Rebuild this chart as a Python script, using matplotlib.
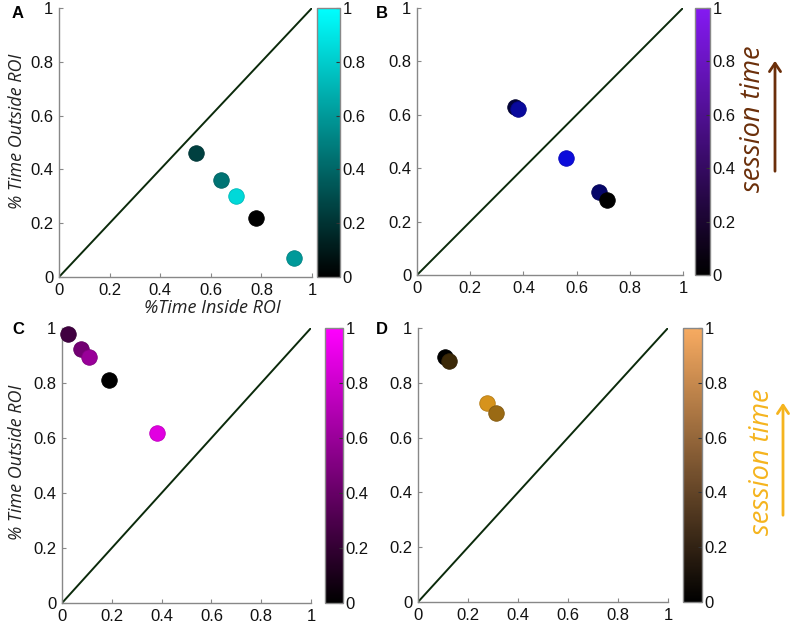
import matplotlib
matplotlib.use("Agg")
import matplotlib.pyplot as plt
from matplotlib.colors import LinearSegmentedColormap
from matplotlib.cm import ScalarMappable
from matplotlib.colors import Normalize

# ---- data ----
a_inside = [0.54, 0.64, 0.70, 0.78, 0.93]
a_outside = [0.46, 0.36, 0.30, 0.22, 0.07]
a_time = [0.25, 0.45, 0.85, 0.0, 0.60]

b_inside = [0.37, 0.38, 0.56, 0.685, 0.715]
b_outside = [0.63, 0.62, 0.44, 0.3125, 0.28]
b_time = [0.25, 0.68, 0.95, 0.45, 0.0]

c_inside = [0.024, 0.078, 0.107, 0.187, 0.382]
c_outside = [0.979, 0.923, 0.893, 0.812, 0.618]
c_time = [0.25, 0.45, 0.60, 0.0, 0.88]

d_inside = [0.109, 0.124, 0.276, 0.313]
d_outside = [0.893, 0.881, 0.726, 0.690]
d_time = [0.0, 0.25, 0.90, 0.65]

ticks = [0, 0.2, 0.4, 0.6, 0.8, 1]
tick_labels = ["0", "0.2", "0.4", "0.6", "0.8", "1"]
panel_letters = ["A", "B", "C", "D"]

W, H = 797, 626
fig = plt.figure(figsize=(W / 100, H / 100), dpi=100)

def mk(c):
    return LinearSegmentedColormap.from_list("m", [(0, 0, 0), c])

cm_a = mk((0, 1, 1))
cm_b_pts = mk((0.05, 0.05, 0.90))
cm_b_bar = mk((0.52, 0.10, 0.95))
cm_c = mk((1, 0, 1))
cm_d_pts = mk((0.93, 0.64, 0.12))
cm_d_bar = mk((0.97, 0.67, 0.38))

def rect(x0, y0, x1, y1):
    return [x0 / W, 1 - y1 / H, (x1 - x0) / W, (y1 - y0) / H]

tick_font = dict(family="Liberation Sans", size=12)
label_font = dict(family="Open Sans", style="italic", size=13, color="#222222")

panels = [
    (a_inside, a_outside, a_time, cm_a, cm_a, rect(59, 8, 312, 277), rect(317, 8, 340, 277)),
    (b_inside, b_outside, b_time, cm_b_pts, cm_b_bar, rect(417, 8, 683, 275), rect(695, 8, 710, 275)),
    (c_inside, c_outside, c_time, cm_c, cm_c, rect(62, 328, 311, 603), rect(325, 328, 343, 603)),
    (d_inside, d_outside, d_time, cm_d_pts, cm_d_bar, rect(418, 328, 668, 602), rect(683, 328, 702, 602)),
]

for i, (xs, ys, cs, cmp, cbar_cmap, ax_r, cb_r) in enumerate(panels):
    ax = fig.add_axes(ax_r)
    ax.plot([0, 1], [0, 1], color="#0b2a0b", lw=1.4, zorder=1)
    for x, y, c in zip(xs, ys, cs):
        col = cmp(c)
        ax.scatter([x], [y], s=125, color=[col], edgecolors=[tuple(v * 0.85 for v in col[:3])],
                   linewidths=0.6, zorder=3, clip_on=False)
    ax.set_xlim(0, 1)
    ax.set_ylim(0, 1)
    ax.set_xticks(ticks)
    ax.set_yticks(ticks)
    ax.set_xticklabels(tick_labels, **tick_font)
    ax.set_yticklabels(tick_labels, **tick_font)
    for s in ["top", "right"]:
        ax.spines[s].set_visible(False)
    for s in ["left", "bottom"]:
        ax.spines[s].set_color("#888888")
        ax.spines[s].set_linewidth(1.0)
    ax.tick_params(direction="in", length=3, color="#888888", pad=4, labelcolor="#111111")

    cax = fig.add_axes(cb_r)
    sm = ScalarMappable(norm=Normalize(0, 1), cmap=cbar_cmap)
    cb = fig.colorbar(sm, cax=cax, ticks=ticks)
    cb.ax.set_yticklabels(tick_labels, **tick_font)
    cb.outline.set_edgecolor("#888888")
    cb.outline.set_linewidth(1.0)
    cb.ax.tick_params(direction="in", length=3, color="#333333", pad=2, labelcolor="#111111")

# panel letters
for (x, y), t in zip([(18, 14), (382, 14), (18, 329), (382, 329)], panel_letters):
    fig.text(x / W, 1 - y / H, t, ha="center", va="center", fontsize=12,
             fontweight="bold", family="Liberation Sans")

# axis labels
fig.text(17 / W, 1 - 131 / H, "% Time Outside ROI", rotation=90, ha="center", va="center", **label_font)
fig.text(17 / W, 1 - 462 / H, "% Time Outside ROI", rotation=90, ha="center", va="center", **label_font)
fig.text(212 / W, 1 - 308 / H, "%Time Inside ROI", ha="center", va="center", **label_font)

# session time annotations
fig.text(753 / W, 1 - 119 / H, "session time", rotation=90, ha="center", va="center",
         family="Open Sans", style="italic", fontsize=19.5, color="#6b2f0a")
fig.add_artist(matplotlib.patches.FancyArrowPatch(
    (775 / W, 1 - 174 / H), (775 / W, 1 - 58 / H), transform=fig.transFigure,
    arrowstyle="->,head_length=6,head_width=4", color="#6b2f0a", lw=2, mutation_scale=1))
fig.text(762 / W, 1 - 462 / H, "session time", rotation=90, ha="center", va="center",
         family="Open Sans", style="italic", fontsize=19.5, color="#f5b41e")
fig.add_artist(matplotlib.patches.FancyArrowPatch(
    (783 / W, 1 - 518 / H), (783 / W, 1 - 400 / H), transform=fig.transFigure,
    arrowstyle="->,head_length=6,head_width=4", color="#f5b41e", lw=2, mutation_scale=1))

fig.savefig("out.png", dpi=100, facecolor="white")
